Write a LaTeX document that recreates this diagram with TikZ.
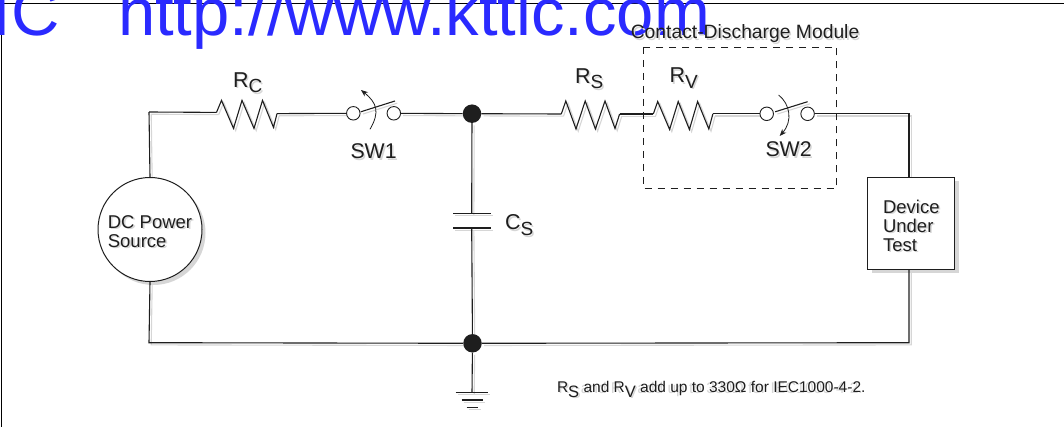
\documentclass[tikz,border=0pt]{standalone}
\usepackage{fontspec}
\setmainfont{Liberation Sans}
\usetikzlibrary{shadows,arrows.meta}
\pgfdeclarelayer{background}
\pgfsetlayers{background,main}
\definecolor{shade}{HTML}{D6D6D6}
\definecolor{ink}{HTML}{1E1E1E}
\definecolor{wm}{HTML}{2A2AFF}
\newcommand\shd[1]{\makebox[0pt][l]{\kern1.6pt\raisebox{-1.6pt}{\color{shade}#1}}#1}
\newcommand\fs[1]{\fontsize{#1}{#1}\selectfont}
\newcommand\subb[3]{\shd{\fs{#1}R}\raisebox{-5.5pt}{\shd{\fs{#2}#3}}}
\newcommand\wiring{%
  \draw (srcTop) -- (src.north);
  \draw (srcTop) -- (rcA);
  \draw (rcB) -- (sw1a);
  \draw (sw1b) -- (j1);
  \draw (j1) -- (rsA);
  \draw (rsB) -- (rvA);
  \draw (rvB) -- (sw2a);
  \draw (sw2b) -- (dutTop) -- (dut.north -| dutTop);
  \draw (dut.south -| dutTop) -- (dutBot) -- (j2) -- (srcBot) -- (src.south);
  \draw (j1) -- (capT);
  \draw (capB) -- (j2) -- (gndT);
  \draw (capTl) -- (capTr);
  \draw (capBl) -- (capBr);
  \draw (g1l) -- (g1r);
  \draw (g2l) -- (g2r);
  \draw (g3l) -- (g3r);
  \draw (rcA) -- ++(5,-12) -- ++(12,28) -- ++(8.5,-28) -- ++(12,28) -- ++(8.5,-28) -- ++(11,27) -- (rcB);
  \draw (rsA) -- ++(4.5,-13) -- ++(10.2,28) -- ++(9.2,-28) -- ++(10.2,28) -- ++(9.6,-28) -- ++(10,27.5) -- (rsB);
  \draw (rvA) -- ++(4.4,-12.5) -- ++(11.9,28) -- ++(8.6,-28) -- ++(11.2,28) -- ++(8.2,-28) -- ++(11.2,27.5) -- (rvB);
  \draw (sw1a) ++(7.5,-1.5) -- (sw1t);
  \draw (sw2a) ++(8.5,-2) -- (sw2t);
}
\tikzset{
  wire/.style={line width=1.1pt,draw=ink},
  term/.style={circle,draw=ink,line width=.9pt,fill=white,minimum size=13.5pt,inner sep=0pt},
  dot/.style={circle,fill=ink,draw=none,minimum size=18.5pt,inner sep=0pt},
  txt/.style={anchor=base west,inner sep=0pt,outer sep=0pt,text=ink},
}
\begin{document}
\begin{tikzpicture}[x=1pt,y=-1pt]
\useasboundingbox (0,0) rectangle (1064,427);
\clip (0,0) rectangle (1064,427);
% frame
\coordinate (fTL) at (1.5,3.2);
\coordinate (fTR) at (1064,3.2);
\coordinate (fBL) at (1.5,427);
\draw[line width=1pt,draw=black] (fTR) -- (fTL) -- (fBL);
% watermark
\node[txt,text=wm] (wmA) at (-7,35.5) {\fs{67}IC};
\node[txt,text=wm] (wmB) at (118,35.5) {\fs{67}http://www.kttic.com};
% coordinates
\coordinate (srcTop) at (149,112);
\coordinate (srcBot) at (149,342.7);
\coordinate (rcA) at (216.5,112.4);
\coordinate (rcB) at (277,113.6);
\coordinate (rsA) at (561.3,114);
\coordinate (rsB) at (619.6,114);
\coordinate (rvA) at (653.3,114);
\coordinate (rvB) at (712.9,113.8);
\coordinate (dutTop) at (909,113.8);
\coordinate (dutBot) at (909,342.7);
\coordinate (capT) at (471.7,213.3);
\coordinate (capB) at (471.7,228);
\coordinate (capTl) at (453,213.3);
\coordinate (capTr) at (491,213.3);
\coordinate (capBl) at (453,228);
\coordinate (capBr) at (491,228);
\coordinate (gndT) at (472,392.7);
\coordinate (g1l) at (455.7,392.7);
\coordinate (g1r) at (487.5,392.7);
\coordinate (g2l) at (461.5,400);
\coordinate (g2r) at (482.8,400);
\coordinate (g3l) at (466.5,407.7);
\coordinate (g3r) at (478.4,407.7);
\coordinate (sw1t) at (395,101);
\coordinate (sw2t) at (807.6,101.7);
\coordinate (sw1s) at (370,129.3);
\coordinate (sw1e) at (361,90);
\coordinate (sw2s) at (778.6,95);
\coordinate (sw2e) at (779.7,136);
\coordinate (boxTL) at (643,47);
\coordinate (boxBR) at (836.5,188.5);
% blocks
\node[circle,draw=ink,line width=1pt,fill=white,minimum size=104pt,inner sep=0pt,align=left,text=ink,
  font=\fontsize{18.5}{19}\selectfont,
  drop shadow={shadow xshift=3.5pt,shadow yshift=-3.5pt,fill=shade,opacity=1}] (src) at (150,229.5)
  {\rule{0pt}{18pt}\shd{DC Power}\\\shd{Source}};
\node[rectangle,draw=ink,line width=1pt,fill=white,minimum width=87pt,minimum height=92pt,inner sep=0pt,align=left,text=ink,
  font=\fontsize{18.5}{19}\selectfont,
  drop shadow={shadow xshift=4pt,shadow yshift=-3.5pt,fill=shade,opacity=1}] (dut) at (911.3,223.3)
  {\rule{0pt}{19.5pt}\shd{Device}\\\shd{Under}\\\shd{Test}};
\node[dot] (j1) at (472,113.7) {};
\node[dot] (j2) at (472.5,343.3) {};
\node[term] (sw1a) at (353.3,113.3) {};
\node[term] (sw1b) at (393.8,113.3) {};
\node[term] (sw2a) at (766.7,113.8) {};
\node[term] (sw2b) at (807.6,113.8) {};
% wires
\begin{pgfonlayer}{background}
\begin{scope}[every path/.style={line width=1.1pt,draw=shade},transform canvas={xshift=2.2pt,yshift=-2.2pt}]
\wiring
\end{scope}
\end{pgfonlayer}
\begin{scope}[every path/.style={wire}]
\wiring
\end{scope}
% switch levers
\draw[line width=.8pt,draw=ink,-{Stealth[length=7pt,width=5.5pt]}] (sw1s) .. controls (380,112) and (377,103) .. (sw1e);
\draw[line width=.8pt,draw=ink,-{Stealth[length=7pt,width=5.5pt]}] (sw2s) .. controls (790,104) and (793,121) .. (sw2e);
% module box
\draw[line width=.9pt,draw=ink,dash pattern=on 7.5pt off 5.5pt] (boxTL) rectangle (boxBR);
% labels
\node[txt] (lmod) at (630.8,38.5) {\shd{\fs{19.3}Contact-Discharge Module}};
\node[txt] (lrc) at (233,87.2) {\subb{21.5}{19}{C}};
\node[txt] (lrs) at (575,83.2) {\subb{21.5}{19}{S}};
\node[txt] (lrv) at (669.6,82.8) {\subb{21.5}{19}{V}};
\node[txt] (lsw1) at (350.5,159) {\shd{\fs{21.3}SW1}};
\node[txt] (lsw2) at (765.5,157) {\shd{\fs{21.3}SW2}};
\node[txt] (lcs) at (505,230) {\shd{\fs{21.5}C}\raisebox{-5.5pt}{\shd{\fs{19}S}}};
\node[txt] (lnote) at (557,392.3) {\fs{15.5}\shd{R}\raisebox{-5pt}{\shd{\fs{16.5}S}}\shd{ and R}\raisebox{-5pt}{\shd{\fs{16.5}V}}\shd{ add up to 330Ω for IEC1000-4-2.}};
\end{tikzpicture}
\end{document}
